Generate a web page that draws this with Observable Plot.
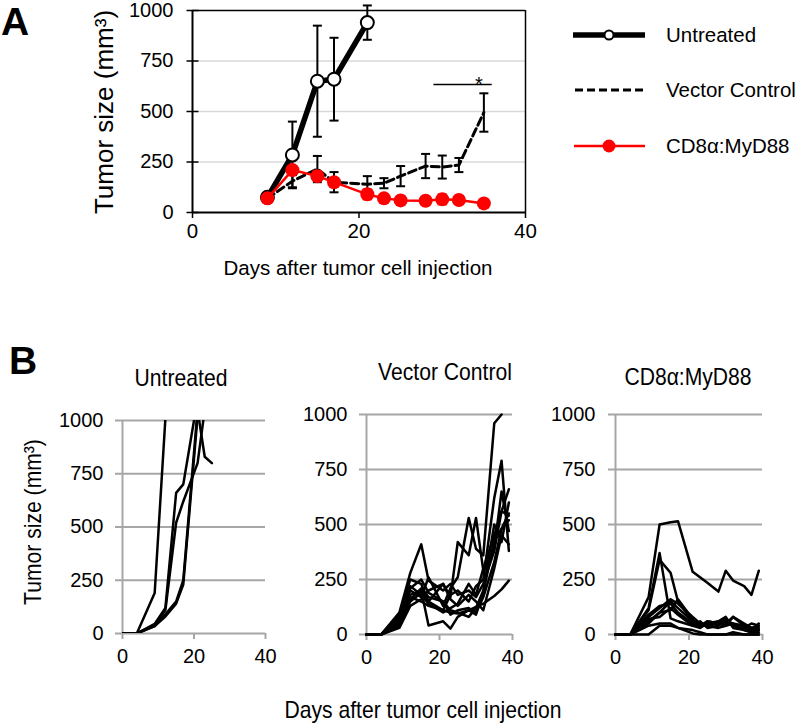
<!DOCTYPE html>
<html><head><meta charset="utf-8">
<script src="https://cdn.jsdelivr.net/npm/d3@7"></script>
<script src="https://cdn.jsdelivr.net/npm/@observablehq/plot@0.6"></script>
<style>
body{margin:0;background:#fff;}
#root{position:relative;width:800px;height:723px;overflow:hidden;font-family:"Liberation Sans",Arial,sans-serif;color:#000;background:#fff;}
.abs{position:absolute;white-space:nowrap;line-height:1;}
.ctr{transform:translate(-50%,-50%);}
.rot{transform:translate(-50%,-50%) rotate(-90deg);}
.ctrn{transform:translate(-50%,-50%) scaleX(0.88);}
.rotn{transform:translate(-50%,-50%) rotate(-90deg) scaleX(0.88);}
.plotbox{position:absolute;}
</style></head><body><div id="root"></div>
<script>
// ---------- Panel A data ----------
const untreatedDays = [9, 12, 15, 17, 21];
const untreatedMean = [75, 285, 650, 660, 940];
const untreatedErr  = [10, 165, 275, 205, 85];

const daysA      = [9, 12, 15, 17, 21, 23, 25, 28, 30, 32, 35];
const vectorMean = [70, 155, 215, 150, 140, 145, 180, 230, 225, 235, 495];
const vectorErr  = [10, 30, 65, 50, 40, 25, 50, 60, 57, 35, 95];
const cd8Mean    = [70, 210, 180, 150, 90, 70, 60, 58, 65, 62, 45];
const cd8Err     = [10, 20, 25, 20, 25, 15, 10, 10, 25, 20, 15];

const sigBar = [{start: 29, end: 36, value: 634, starDay: 34.4, label: "*"}];
const aXTicks = [0, 20, 40];
const aYTicks = [0, 250, 500, 750, 1000];
const legendLabels = ["Untreated", "Vector Control", "CD8\u03b1:MyD88"];

// ---------- Panel B data ----------
const bDays = [0, 4, 9, 12, 15, 17, 21, 23, 25, 28, 30, 32, 35, 37, 39];
const bXTicks = [0, 20, 40];
const bYTicks = [0, 250, 500, 750, 1000];
const bTitles = ["Untreated", "Vector Control", "CD8\u03b1:MyD88"];

const miceUntreated = [
  [0, 0, 190, 1010],
  [0, 0, 45, 120, 660, 700, 1100],
  [0, 0, 40, 110, 520, 620, 800, 1050],
  [0, 0, 35, 90, 150, 250, 1050, 830, 800],
  [0, 0, 35, 80, 140, 230, 1020]
];
const miceVector = [
  [0, 0, 100, 280, 410, 245, 200, 230, 180, 200, 170, 230, 380, 560, 540],
  [0, 0, 60, 180, 200, 41, 60, 27, 80, 110, 90, 190, 430, 480, 550],
  [0, 0, 90, 250, 230, 150, 230, 170, 420, 360, 530, 290, 390, 650, 470],
  [0, 0, 70, 200, 170, 260, 130, 210, 260, 530, 390, 360, 960, 1000, null],
  [0, 0, 50, 170, 150, 130, 110, 180, 200, 150, 220, 250, 620, 790, 380],
  [0, 0, 80, 220, 180, 140, 100, 120, 140, 230, 180, 300, 450, 560, 660],
  [0, 0, 40, 160, 210, 170, 150, 110, 100, 80, 120, 200, 500, 420, 600],
  [0, 0, 40, 150, 190, 150, 110, 100, 95, 110, 125, 140, 175, 205, 245],
  [0, 0, 60, 210, 250, 190, 150, 90, 110, 120, 100, 170, 330, 480, 520],
  [0, 0, 30, 130, 160, 200, 230, 160, 130, 180, 150, 110, 300, 450, 410]
];
const miceCD8 = [
  [0, 0, 170, 500, 510, 515, 285, 260, 235, 195, 290, 245, 220, 180, 290],
  [0, 0, 110, 340, 280, 150, 60, 50, 40, 50, 60, 40, 30, 20, 20],
  [0, 0, 120, 370, 73, 60, 40, 30, 60, 50, 40, 50, 20, 10, 10],
  [0, 0, 80, 120, 160, 140, 80, 50, 40, 30, 40, 80, 50, 30, 40],
  [0, 0, 60, 100, 150, 120, 60, 40, 60, 50, 70, 40, 30, 50, 40],
  [0, 0, 90, 130, 140, 100, 50, 30, 50, 60, 50, 80, 40, 20, 50],
  [0, 0, 70, 80, 120, 90, 40, 60, 30, 40, 60, 50, 40, 30, 30],
  [0, 0, 40, 50, 50, 30, 5, 0, 0, 0, 0, 0, 0, 0, 0],
  [0, 0, 0, 40, 40, 30, 20, 10, 0, 0, 0, 10, 0, 0, 0],
  [0, 0, 50, 100, 110, 160, 70, 50, 40, 60, 80, 30, 20, 10, 20]
];

// ---------- helpers ----------
const root = document.getElementById("root");
const FONT = '"Liberation Sans", Arial, sans-serif';
const fmt = d => String(d);
function text(str, x, y, size, cls = "ctr", extra = "") {
  const d = document.createElement("div");
  d.className = "abs " + cls;
  d.style.cssText += `left:${x}px;top:${y}px;font-size:${size}px;${extra}`;
  d.textContent = str;
  root.appendChild(d);
}
function place(node, left, top) {
  const w = document.createElement("div");
  w.className = "plotbox";
  w.style.left = left + "px"; w.style.top = top + "px";
  w.appendChild(node);
  root.appendChild(w);
}
const hline = {draw(ctx, size) { const r = Math.sqrt(size / Math.PI); ctx.moveTo(-r, 0); ctx.lineTo(r, 0); }};

// ---------- Panel A ----------
const unt = untreatedDays.map((d, i) => ({day: d, mean: untreatedMean[i], err: untreatedErr[i]}));
const vec = daysA.map((d, i) => ({day: d, mean: vectorMean[i], err: vectorErr[i]}));
const cd8 = daysA.map((d, i) => ({day: d, mean: cd8Mean[i], err: cd8Err[i]}));

function errMarks(data, color, w) {
  return [
    Plot.ruleX(data, {x: "day", y1: d => d.mean - d.err, y2: d => d.mean + d.err, stroke: color, strokeWidth: w}),
    Plot.dot(data, {x: "day", y: d => d.mean + d.err, symbol: hline, r: 4.5, stroke: color, strokeWidth: w}),
    Plot.dot(data, {x: "day", y: d => d.mean - d.err, symbol: hline, r: 4.5, stroke: color, strokeWidth: w})
  ];
}

const plotA = Plot.plot({
  width: 540, height: 290,
  marginLeft: 192, marginRight: 15, marginTop: 9, marginBottom: 79,
  x: {domain: [0, 40]}, y: {domain: [0, 1000]},
  style: {background: "none", fontFamily: FONT, fontSize: "20px", color: "#000", overflow: "visible", maxWidth: "none"},
  marks: [
    Plot.ruleY(aYTicks.slice(1, 4), {stroke: "#d9d9d9", strokeWidth: 1.5}),
    Plot.ruleY([1000], {stroke: "#000", strokeWidth: 1.5}),
    Plot.ruleX([40], {stroke: "#000", strokeWidth: 1.5}),
    Plot.axisY({ticks: aYTicks, tickFormat: fmt, tickSize: 0, tickPadding: 19, label: null, fontSize: 20, fill: "#000"}),
    Plot.axisX({ticks: aXTicks, tickFormat: fmt, tickSize: 6, tickPadding: 5, label: null, fontSize: 20.5, stroke: "#000", strokeWidth: 1.5, fill: "#000"}),
    Plot.dot(aYTicks, {x: 0, y: d => d, symbol: hline, r: 6, stroke: "#000", strokeWidth: 1.5}),
    Plot.ruleX([0], {stroke: "#000", strokeWidth: 2}),
    Plot.ruleY([0], {stroke: "#000", strokeWidth: 2}),
    // untreated
    ...errMarks(unt, "#000", 2),
    Plot.line(unt, {x: "day", y: "mean", stroke: "#000", strokeWidth: 5.5}),
    Plot.dot(unt, {x: "day", y: "mean", r: 6.5, fill: "#fff", stroke: "#000", strokeWidth: 2}),
    // vector control
    ...errMarks(vec, "#000", 2),
    Plot.line(vec, {x: "day", y: "mean", stroke: "#000", strokeWidth: 3, strokeDasharray: "8,4"}),
    // CD8a:MyD88
    ...errMarks(cd8, "#ff0000", 2),
    Plot.line(cd8, {x: "day", y: "mean", stroke: "#ff0000", strokeWidth: 2.5}),
    Plot.dot(cd8, {x: "day", y: "mean", r: 7, fill: "#ff0000", stroke: "none"}),
    // significance
    Plot.ruleY(sigBar, {y: "value", x1: "start", x2: "end", stroke: "#000", strokeWidth: 1.5}),
    Plot.text(sigBar, {x: "starDay", y: "value", text: "label", fontSize: 20, fill: "#000"})
  ]
});
place(plotA, 0, 1);

text("A", 15, 20.5, 39, "ctr", "font-weight:bold;");
text("Tumor size (mm\u00b3)", 104, 112, 26, "rot");
text("Days after tumor cell injection", 358, 268, 20.5);

// legend
(function () {
  const svg = d3.create("svg").attr("width", 240).attr("height", 170)
    .style("position", "absolute").style("left", "560px").style("top", "0px").style("overflow", "visible");
  const ys = [35, 90, 146];
  svg.append("line").attr("x1", 13).attr("x2", 85).attr("y1", ys[0]).attr("y2", ys[0]).attr("stroke", "#000").attr("stroke-width", 5.5);
  svg.append("circle").attr("cx", 49).attr("cy", ys[0]).attr("r", 4.5).attr("fill", "#fff").attr("stroke", "#000").attr("stroke-width", 2);
  svg.append("line").attr("x1", 15).attr("x2", 84).attr("y1", ys[1]).attr("y2", ys[1]).attr("stroke", "#000").attr("stroke-width", 3).attr("stroke-dasharray", "8,4");
  svg.append("line").attr("x1", 14).attr("x2", 85).attr("y1", ys[2]).attr("y2", ys[2]).attr("stroke", "#ff0000").attr("stroke-width", 2.5);
  svg.append("circle").attr("cx", 49).attr("cy", ys[2]).attr("r", 6.5).attr("fill", "#ff0000");
  legendLabels.forEach((l, i) => {
    svg.append("text").attr("x", 106).attr("y", ys[i]).attr("dy", "0.35em").attr("font-family", FONT).attr("font-size", 20.5).text(l);
  });
  root.appendChild(svg.node());
})();

// ---------- Panel B ----------
function panelB(mice, o) {
  const rows = [];
  mice.forEach((vals, m) => vals.forEach((v, i) => rows.push({mouse: m, day: bDays[i], value: v})));
  return Plot.plot({
    width: o.width, height: o.height,
    marginLeft: o.ml, marginRight: o.mr, marginTop: o.mt, marginBottom: o.mb,
    x: {domain: [0, 40]}, y: {domain: [0, 1000]},
    style: {background: "none", fontFamily: FONT, fontSize: "20px", color: "#000", overflow: "visible", maxWidth: "none"},
    marks: [
      Plot.ruleY(bYTicks, {stroke: "#a6a6a6", strokeWidth: 2, insetLeft: -7}),
      Plot.ruleX([0], {stroke: "#a6a6a6", strokeWidth: 2}),
      Plot.axisX({ticks: bXTicks, tickFormat: fmt, tickSize: 6, tickPadding: 9, label: null, fontSize: 20, stroke: "#a6a6a6", strokeWidth: 2, fill: "#000"}),
      Plot.axisY({ticks: bYTicks, tickFormat: fmt, tickSize: 0, tickPadding: o.pad, label: null, fontSize: 20, fill: "#000"}),
      Plot.line(rows, {x: "day", y: "value", z: "mouse", stroke: "#000", strokeWidth: 2.5, strokeLinejoin: "round", clip: o.clip})
    ]
  });
}
place(panelB(miceUntreated, {width: 285, height: 300, ml: 122, mr: 20, mt: 30, mb: 57, pad: 19, clip: true}), 0, 390);
place(panelB(miceVector, {width: 282, height: 300, ml: 116, mr: 20, mt: 24, mb: 56, pad: 19, clip: false}), 250, 390);
place(panelB(miceCD8, {width: 282, height: 300, ml: 115, mr: 20, mt: 24, mb: 56, pad: 20, clip: false}), 500, 390);

text("B", 23, 360, 39, "ctr", "font-weight:bold;");
text(bTitles[0], 181, 378, 24, "ctrn");
text(bTitles[1], 445, 372, 24, "ctrn");
text(bTitles[2], 688, 377, 24, "ctrn");
text("Tumor size (mm\u00b3)", 33, 522, 24, "rotn");
text("Days after tumor cell injection", 423, 710, 24, "ctrn");
</script></body></html>
